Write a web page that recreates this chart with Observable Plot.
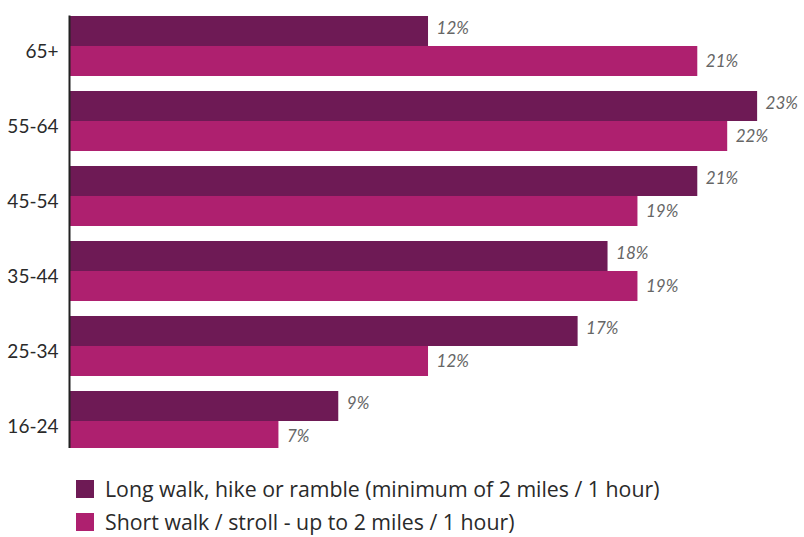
<!DOCTYPE html>
<html>
<head>
<meta charset="utf-8">
<script src="https://cdn.jsdelivr.net/npm/d3@7"></script>
<script src="https://cdn.jsdelivr.net/npm/@observablehq/plot@0.6"></script>
<style>
  html, body { margin: 0; padding: 0; background: #fff; }
  body { width: 804px; height: 537px; overflow: hidden; font-family: "Lato", "Open Sans", sans-serif; }
  #chart svg { display: block; }
  .legend { margin: 24px 0 0 76px; color: #2a2a2a; font-size: 21.3px; font-family: "Open Sans", sans-serif; }
  .legend .row { display: flex; align-items: center; height: 33px; line-height: 33px; }
  .legend .sw { width: 18px; height: 18px; margin-right: 11px; flex: none; }
</style>
</head>
<body>
<div id="chart"></div>
<div class="legend" id="legend"></div>
<script>
const ages = ["65+", "55-64", "45-54", "35-44", "25-34", "16-24"];
const seriesNames = [
  "Long walk, hike or ramble (minimum of 2 miles / 1 hour)",
  "Short walk / stroll - up to 2 miles / 1 hour)"
];
const longWalk = [12, 23, 21, 18, 17, 9];
const shortWalk = [21, 22, 19, 19, 12, 7];
const colors = ["#6e1a55", "#ae206f"];

const longData = ages.map((a, i) => ({age: a, series: seriesNames[0], value: longWalk[i]}));
const shortData = ages.map((a, i) => ({age: a, series: seriesNames[1], value: shortWalk[i]}));
const data = longData.concat(shortData);

const labelStyle = {fy: "age", y: "series", x: "value", text: d => d.value + "%",
  textAnchor: "start", dx: 8, fill: "#666", fontSize: 17, fontStyle: "italic"};

const chart = Plot.plot({
  width: 804,
  height: 448,
  marginTop: 5,
  marginBottom: -15,
  marginLeft: 69,
  marginRight: 2,
  style: {fontFamily: "Lato, 'Open Sans', sans-serif", background: "#fff"},
  x: {domain: [0, 24.5], axis: null},
  y: {domain: seriesNames, axis: null, padding: 0},
  fy: {domain: ages, paddingInner: 0.197, paddingOuter: 0.112, axis: null},
  color: {domain: seriesNames, range: colors},
  marks: [
    Plot.barX(data, {fy: "age", y: "series", x: "value", fill: "series"}),
    Plot.text(longData, {...labelStyle, dy: -3}),
    Plot.text(shortData, {...labelStyle, dy: 0}),
    Plot.axisFy({anchor: "left", tickSize: 0, tickPadding: 11, fontSize: 19, fill: "#2a2a2a", dy: 5, label: null}),
    Plot.frame({anchor: "left", facet: "super", stroke: "#222", strokeWidth: 2})
  ]
});
document.getElementById("chart").appendChild(chart);

const legend = document.getElementById("legend");
seriesNames.forEach((s, i) => {
  const row = document.createElement("div");
  row.className = "row";
  const sw = document.createElement("span");
  sw.className = "sw";
  sw.style.background = colors[i];
  const t = document.createElement("span");
  t.textContent = s;
  row.appendChild(sw);
  row.appendChild(t);
  legend.appendChild(row);
});
</script>
</body>
</html>
